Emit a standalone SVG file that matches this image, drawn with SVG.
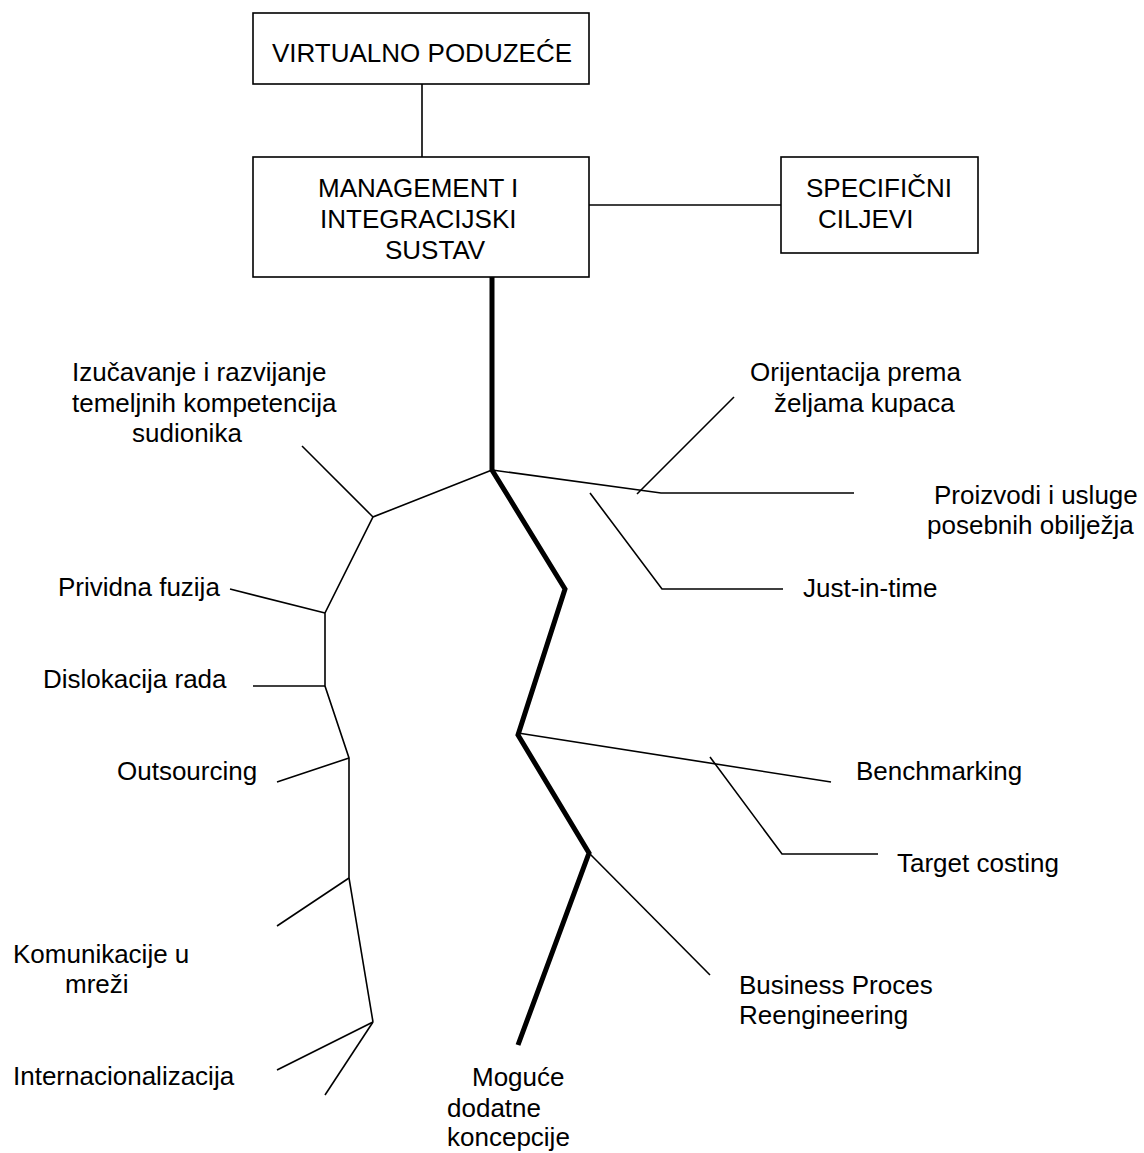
<svg xmlns="http://www.w3.org/2000/svg" width="1144" height="1153" viewBox="0 0 1144 1153">
<style>
text{font-family:"Liberation Sans",Arial,sans-serif;font-size:26px;fill:#000}
.box{fill:#fff;stroke:#000;stroke-width:1.6}
.thin{fill:none;stroke:#000;stroke-width:1.6;stroke-linejoin:miter}
.thick{fill:none;stroke:#000;stroke-width:5;stroke-linejoin:miter}
</style>
<rect width="1144" height="1153" fill="#fff"/>
<g id="connectors">
<line class="thin" x1="422" y1="84" x2="422" y2="157"/>
<line class="thin" x1="589" y1="205" x2="781" y2="205"/>
<polyline class="thick" points="492,277 492,470 565,589 518,735 589,853 518,1045"/>
<polyline class="thin" points="492,470 373,517 325,613 325,686 349,758 349,878 373,1022"/>
<line class="thin" x1="373" y1="517" x2="302" y2="446"/>
<line class="thin" x1="325" y1="613" x2="230" y2="589"/>
<line class="thin" x1="325" y1="686" x2="253" y2="686"/>
<line class="thin" x1="349" y1="758" x2="277" y2="782"/>
<line class="thin" x1="349" y1="878" x2="277" y2="926"/>
<line class="thin" x1="373" y1="1022" x2="277" y2="1070"/>
<line class="thin" x1="373" y1="1022" x2="325" y2="1095"/>
<polyline class="thin" points="492,470 661,493 854,493"/>
<line class="thin" x1="637" y1="494" x2="734" y2="397"/>
<polyline class="thin" points="590,493 662,589 783,589"/>
<line class="thin" x1="518" y1="733" x2="831" y2="782"/>
<polyline class="thin" points="710,757 782,854 878,854"/>
<line class="thin" x1="589" y1="853" x2="710" y2="975"/>
</g>
<g id="virtualno">
<rect class="box" x="253" y="13" width="336" height="71"/>
<text x="272" y="62">VIRTUALNO PODUZEĆE</text>
</g>
<g id="management">
<rect class="box" x="253" y="157" width="336" height="120"/>
<text x="318" y="197">MANAGEMENT I</text>
<text x="320" y="228">INTEGRACIJSKI</text>
<text x="385" y="259">SUSTAV</text>
</g>
<g id="specificni">
<rect class="box" x="781" y="157" width="197" height="96"/>
<text x="806" y="197">SPECIFIČNI</text>
<text x="818" y="228">CILJEVI</text>
</g>
<g id="izucavanje">
<text x="72" y="381">Izučavanje i razvijanje</text>
<text x="72" y="412">temeljnih kompetencija</text>
<text x="132" y="442">sudionika</text>
</g>
<g id="prividna"><text x="58" y="596">Prividna fuzija</text></g>
<g id="dislokacija"><text x="43" y="688">Dislokacija rada</text></g>
<g id="outsourcing"><text x="117" y="780">Outsourcing</text></g>
<g id="komunikacije">
<text x="13" y="963">Komunikacije u</text>
<text x="65" y="993">mreži</text>
</g>
<g id="internacionalizacija"><text x="13" y="1085">Internacionalizacija</text></g>
<g id="moguce">
<text x="472" y="1086">Moguće</text>
<text x="447" y="1117">dodatne</text>
<text x="447" y="1146">koncepcije</text>
</g>
<g id="orijentacija">
<text x="750" y="381">Orijentacija prema</text>
<text x="774" y="412">željama kupaca</text>
</g>
<g id="proizvodi">
<text x="934" y="504">Proizvodi i usluge</text>
<text x="927" y="534">posebnih obilježja</text>
</g>
<g id="jit"><text x="803" y="597">Just-in-time</text></g>
<g id="benchmarking"><text x="856" y="780">Benchmarking</text></g>
<g id="targetcosting"><text x="897" y="872">Target costing</text></g>
<g id="bpr">
<text x="739" y="994">Business Proces</text>
<text x="739" y="1024">Reengineering</text>
</g>
</svg>
